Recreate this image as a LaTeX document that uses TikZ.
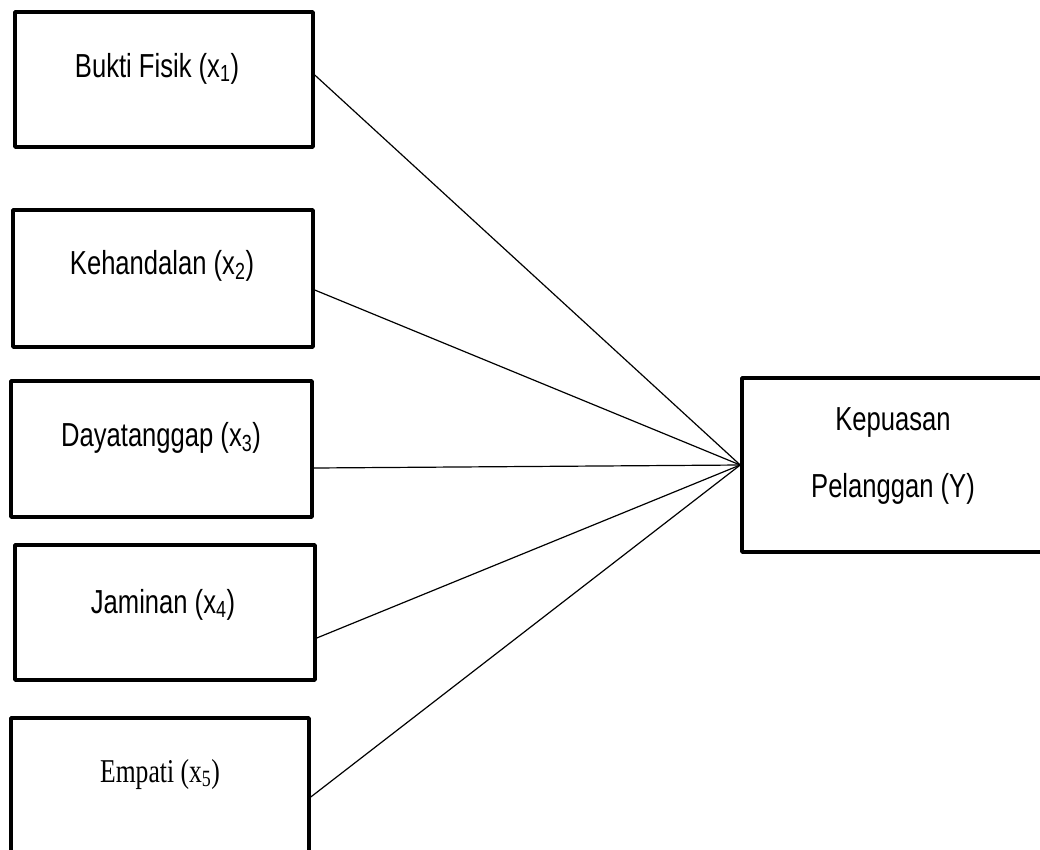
\documentclass[tikz,border=0pt]{standalone}
\usepackage{fontspec}
\setmainfont{Liberation Sans}
\newfontfamily\serifx{Liberation Serif}
\usepackage{graphicx}
\newcommand{\vst}[1]{\scalebox{1}[1.3]{#1}}
\begin{document}
\begin{tikzpicture}[x=1pt,y=-1pt,
  box/.style={draw, line width=3.5pt, line join=round, inner sep=0pt},
  lbl/.style={anchor=base, inner sep=0pt, font=\fontsize{25.6}{30}\selectfont},
  link/.style={line width=1.2pt}]
\useasboundingbox (0,0) rectangle (1040,849);
% boxes
\node[box, minimum width=298pt, minimum height=135pt] (b1) at (164,79.5) {};
\node[box, minimum width=300pt, minimum height=137pt] (b2) at (163,278.5) {};
\node[box, minimum width=301pt, minimum height=136pt] (b3) at (161.5,449) {};
\node[box, minimum width=300pt, minimum height=135pt] (b4) at (165,612.5) {};
\node[box, minimum width=298pt, minimum height=136pt] (b5) at (160,786) {};
\node[box, minimum width=303pt, minimum height=174pt] (y) at (893.5,465) {};
% labels
\node[lbl] (t1) at (157,77) {\vst{Bukti Fisik (x\textsubscript{1})}};
\node[lbl] (t2) at (162,274) {\vst{Kehandalan (x\textsubscript{2})}};
\node[lbl] (t3) at (161,446) {\vst{Dayatanggap (x\textsubscript{3})}};
\node[lbl] (t4) at (163,613) {\vst{Jaminan (x\textsubscript{4})}};
\node[lbl] (t5) at (160,782) {\vst{\serifx Empati (x\textsubscript{5})}};
\node[lbl] (ty1) at (893,430) {\vst{Kepuasan}};
\node[lbl] (ty2) at (893,497) {\vst{Pelanggan (Y)}};
% connectors
\draw[link] ([yshift=4.5pt]b1.east) -- (y.west);
\draw[link] ([yshift=-11.5pt]b2.east) -- (y.west);
\draw[link] ([yshift=-19pt]b3.east) -- (y.west);
\draw[link] ([yshift=-25.5pt]b4.east) -- (y.west);
\draw[link] ([yshift=-11pt]b5.east) -- (y.west);
\end{tikzpicture}
\end{document}
